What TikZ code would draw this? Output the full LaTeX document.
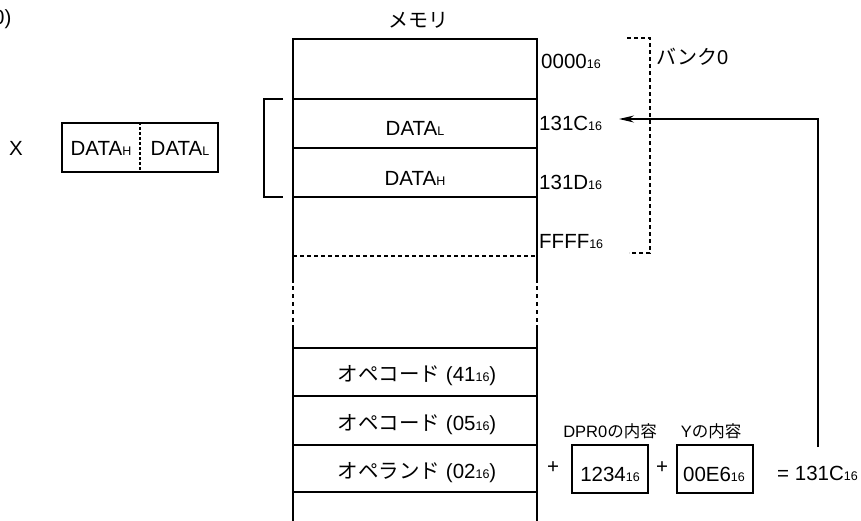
\documentclass[tikz,border=0pt]{standalone}
\usepackage{fontspec}
\setmainfont{Liberation Sans}
\newfontfamily\jp{Noto Sans CJK JP}
\usetikzlibrary{arrows.meta}
\newcommand{\sxt}[1]{{\fontsize{12.5}{13}\selectfont #1}}
\tikzset{
  txt/.style={inner sep=0pt, font=\fontsize{20.5}{22}\selectfont},
  jtxt/.style={inner sep=0pt, font=\fontsize{20}{22}\selectfont\jp},
  smtxt/.style={inner sep=0pt, font=\fontsize{16.5}{18}\selectfont},
  thin line/.style={line width=1.2pt},
  thick line/.style={line width=2.2pt},
  dash line/.style={line width=1.2pt, dash pattern=on 4pt off 3pt},
  arr/.style={line width=1.4pt, -{Stealth[length=15pt,width=7pt,inset=5pt]}},
  valbox/.style={draw, line width=2.2pt, minimum width=76pt, minimum height=48pt, inner sep=0pt},
}
\begin{document}
\begin{tikzpicture}[x=1pt,y=-1pt]
\useasboundingbox (0,0) rectangle (861,520);
% top-left fragment
\node[txt, anchor=base west] (frag) at (-7,24) {0)};
% register X
\node[txt, anchor=base west] (xlab) at (9,155) {X};
\node[draw, line width=2pt, minimum width=156pt, minimum height=49pt, inner sep=0pt] (reg) at (140,147.5) {};
\draw[line width=1.2pt, dash pattern=on 3pt off 2pt] (reg.north) -- (reg.south);
\node[txt, anchor=base] (regH) at (101,155) {DATA\sxt{H}};
\node[txt, anchor=base] (regL) at (180,155) {DATA\sxt{L}};
% memory title
\node[jtxt] (memtitle) at (418,20) {メモリ};
% memory column
\coordinate (mtl) at (293,39);
\coordinate (mtr) at (537,39);
\draw[thick line] (293,283) -- (mtl) -- (mtr) -- (537,283);
\draw[line width=2.2pt, dash pattern=on 4pt off 4pt] (293,286) -- (293,323);
\draw[line width=2.2pt, dash pattern=on 4pt off 4pt] (537,286) -- (537,323);
\draw[thick line] (293,325) -- (293,522);
\draw[thick line] (537,325) -- (537,522);
\foreach \yy in {99,148,197,348,396,445,492}
  \draw[thin line] (293,\yy) -- (537,\yy);
\draw[dash line] (293,256) -- (537,256);
% cell contents
\node[txt, anchor=base] (cellL) at (415,135) {DATA\sxt{L}};
\node[txt, anchor=base] (cellH) at (415,185) {DATA\sxt{H}};
\node[txt, anchor=base] (op41) at (417,381) {{\jp オペコード} (41\sxt{16})};
\node[txt, anchor=base] (op05) at (417,430) {{\jp オペコード} (05\sxt{16})};
\node[txt, anchor=base] (opr02) at (417,478) {{\jp オペランド} (02\sxt{16})};
% left bracket
\draw[thin line] (283,99) -- (264,99) -- (264,197) -- (283,197);
% addresses
\node[txt, anchor=base west] (a0000) at (541,68) {0000\sxt{16}};
\node[txt, anchor=base west] (a131C) at (539,130) {131C\sxt{16}};
\node[txt, anchor=base west] (a131D) at (539,189) {131D\sxt{16}};
\node[txt, anchor=base west] (aFFFF) at (539,248) {FFFF\sxt{16}};
% bank bracket
\draw[dash line] (627,38) -- (650,38) -- (650,253) -- (629,253);
\node[jtxt, anchor=west] (bank) at (656,57) {バンク{\rmfamily 0}};
% bottom computation
\node[txt] (plus1) at (553,468) {+};
\node[valbox] (dpr) at (610,469) {};
\node[txt, anchor=base] (dprv) at (610,481) {1234\sxt{16}};
\node[txt] (plus2) at (662,468) {+};
\node[valbox] (yv) at (715,469) {};
\node[txt, anchor=base] (yvv) at (714,481) {00E6\sxt{16}};
\node[smtxt] (dprlab) at (610,431) {DPR0{\jp の内容}};
\node[smtxt] (ylab) at (711,431) {Y{\jp の内容}};
\node[txt, anchor=base west] (res) at (777,480) {= 131C\sxt{16}};
% arrow
\coordinate (up) at (818,447);
\coordinate (tip) at (619,119);
\draw[arr] (up) |- (tip);
\end{tikzpicture}
\end{document}
